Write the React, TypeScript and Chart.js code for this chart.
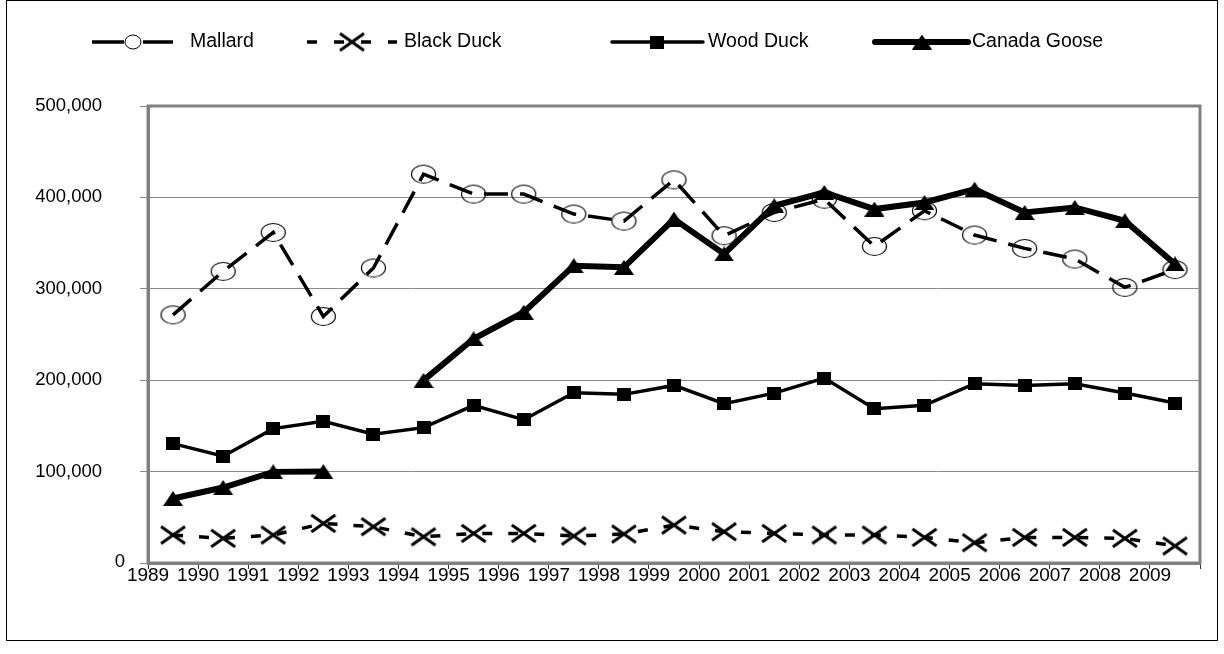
import React, { useEffect, useRef } from 'react';
import { Chart, registerables } from 'chart.js';

Chart.register(...registerables);

const years = ['1989', '1990', '1991', '1992', '1993', '1994', '1995', '1996', '1997', '1998', '1999', '2000', '2001', '2002', '2003', '2004', '2005', '2006', '2007', '2008', '2009'];
const mallard = [271500, 319100, 361700, 269700, 322800, 425400, 403600, 403600, 381800, 374100, 419200, 358100, 383500, 398100, 346400, 385400, 358800, 344200, 332600, 301600, 321000];
const blackDuck = [30600, 27000, 30600, 43300, 39700, 28700, 32400, 32400, 29500, 31700, 41500, 34200, 32400, 30600, 30600, 28000, 22200, 28000, 28000, 27000, 18600];
const woodDuck = [130600, 116800, 147000, 155000, 140800, 148100, 172500, 156800, 186300, 184500, 194300, 174300, 185900, 202300, 168900, 172500, 196200, 194300, 196200, 185900, 175000];
const canadaGoose = [70600, 82600, 99700, 100000, null, 199800, 245300, 274400, 325300, 323500, 376300, 338100, 390800, 405400, 387200, 394400, 409000, 383500, 389000, 374400, 327200];
const seriesNames = ['Mallard', 'Black Duck', 'Wood Duck', 'Canada Goose'];
const yMax = 500000;
const yStep = 100000;
const zeroLabel = '0';

const FONT = '"Liberation Sans", Arial, sans-serif';

function makeMarker(kind: string): HTMLCanvasElement {
  const c = document.createElement('canvas');
  const ctx = c.getContext('2d') as CanvasRenderingContext2D;
  if (kind === 'circle') {
    c.width = 27; c.height = 21;
    ctx.strokeStyle = '#000';
    ctx.lineWidth = 1.2;
    ctx.beginPath();
    ctx.ellipse(13.5, 10.5, 12, 9, 0, 0, Math.PI * 2);
    ctx.stroke();
  } else if (kind === 'x') {
    c.width = 28; c.height = 21;
    ctx.strokeStyle = '#000';
    ctx.lineWidth = 3;
    ctx.beginPath();
    ctx.moveTo(2, 2); ctx.lineTo(26, 19);
    ctx.moveTo(2, 19); ctx.lineTo(26, 2);
    ctx.stroke();
  } else if (kind === 'square') {
    c.width = 14; c.height = 13;
    ctx.fillStyle = '#000';
    ctx.fillRect(0, 0, 14, 13);
  } else {
    c.width = 20; c.height = 15;
    ctx.fillStyle = '#000';
    ctx.beginPath();
    ctx.moveTo(10, 0); ctx.lineTo(20, 15); ctx.lineTo(0, 15); ctx.closePath();
    ctx.fill();
  }
  return c;
}

export default function App() {
  const canvasRef = useRef<HTMLCanvasElement | null>(null);

  useEffect(() => {
    document.body.style.margin = '0';
    const canvas = canvasRef.current;
    if (!canvas) return;

    const markers = [makeMarker('circle'), makeMarker('x'), makeMarker('square'), makeMarker('triangle')];

    const legendLayout = [
      { segs: [[92, 124], [143, 173]], dash: [] as number[], lw: 3.5, mx: 133, tx: 190 },
      { segs: [[307, 397]], dash: [10, 17], lw: 3.5, mx: 352, tx: 404 },
      { segs: [[612, 703]], dash: [], lw: 3.5, mx: 657, tx: 708 },
      { segs: [[875, 968]], dash: [], lw: 6, mx: 922, tx: 972 },
    ];

    const frameAndLegend = {
      id: 'frameAndLegend',
      beforeDatasetsDraw(chart: any) {
        const { ctx, chartArea } = chart;
        ctx.save();
        ctx.strokeStyle = '#808080';
        ctx.lineWidth = 3;
        ctx.strokeRect(chartArea.left, chartArea.top, chartArea.right - chartArea.left, chartArea.bottom - chartArea.top);
        ctx.restore();
      },
      afterDraw(chart: any) {
        const ctx = chart.ctx as CanvasRenderingContext2D;
        ctx.save();
        ctx.strokeStyle = '#000';
        ctx.lineWidth = 1;
        ctx.strokeRect(6.5, 0.5, 1211, 640);
        // zero label of y axis, placed as in the original
        const y0 = chart.scales.y.getPixelForValue(0);
        ctx.fillStyle = '#000';
        ctx.font = '18.5px ' + FONT;
        ctx.textAlign = 'right';
        ctx.textBaseline = 'middle';
        ctx.fillText(zeroLabel, 125, y0 - 1);
        const ly = 42;
        legendLayout.forEach((L, i) => {
          ctx.save();
          ctx.strokeStyle = '#000';
          ctx.lineWidth = L.lw;
          ctx.lineCap = i >= 2 ? 'round' : 'butt';
          ctx.setLineDash(L.dash);
          L.segs.forEach(([a, b]) => {
            ctx.beginPath();
            ctx.moveTo(a, ly);
            ctx.lineTo(b, ly);
            ctx.stroke();
          });
          ctx.setLineDash([]);
          const m = markers[i];
          if (i === 0) {
            ctx.fillStyle = '#fff';
            ctx.beginPath();
            ctx.ellipse(L.mx, ly, 8, 7, 0, 0, Math.PI * 2);
            ctx.fill();
            ctx.lineWidth = 1;
            ctx.stroke();
          } else {
            ctx.drawImage(m, L.mx - m.width / 2, ly - m.height / 2);
          }
          ctx.fillStyle = '#000';
          ctx.font = '19.5px ' + FONT;
          ctx.textBaseline = 'middle';
          ctx.textAlign = 'left';
          ctx.fillText(seriesNames[i], L.tx, ly);
          ctx.restore();
        });
        ctx.restore();
      },
    };

    const chart = new Chart(canvas, {
      type: 'line',
      data: {
        labels: years,
        datasets: [
          {
            label: seriesNames[0],
            data: mallard,
            borderColor: '#000',
            borderWidth: 3.5,
            borderDash: [24, 12],
            pointStyle: markers[0] as any,
            pointRadius: 5,
            backgroundColor: 'transparent',
            tension: 0,
          },
          {
            label: seriesNames[1],
            data: blackDuck,
            borderColor: '#000',
            borderWidth: 3.5,
            borderDash: [10, 16],
            pointStyle: markers[1] as any,
            pointRadius: 5,
            backgroundColor: 'transparent',
            tension: 0,
          },
          {
            label: seriesNames[2],
            data: woodDuck,
            borderColor: '#000',
            borderWidth: 3.5,
            pointStyle: markers[2] as any,
            pointRadius: 5,
            backgroundColor: '#000',
            tension: 0,
          },
          {
            label: seriesNames[3],
            data: canadaGoose as any,
            borderColor: '#000',
            borderWidth: 6,
            borderJoinStyle: 'miter',
            pointStyle: markers[3] as any,
            pointRadius: 5,
            backgroundColor: '#000',
            tension: 0,
            spanGaps: false,
          },
        ],
      },
      options: {
        responsive: false,
        animation: false,
        devicePixelRatio: 1,
        layout: { padding: { top: 106, right: 24, bottom: 61, left: 0 } },
        plugins: {
          legend: { display: false },
          tooltip: { enabled: false },
        },
        events: [],
        scales: {
          x: {
            type: 'category',
            offset: true,
            afterFit(scale: any) { scale.height = 30; },
            grid: {
              offset: true,
              drawOnChartArea: false,
              drawTicks: true,
              tickLength: 6,
              color: '#303030',
              lineWidth: 1,
            },
            border: { display: true, color: '#808080', width: 3 },
            ticks: {
              autoSkip: false,
              maxRotation: 0,
              minRotation: 0,
              labelOffset: -25,
              padding: -5,
              color: '#000',
              font: { family: FONT, size: 19 },
            },
          },
          y: {
            min: 0,
            max: yMax,
            afterFit(scale: any) { scale.width = 148; },
            grid: {
              color: '#8a8a8a',
              lineWidth: 1,
              tickLength: 8,
            },
            border: { display: true, color: '#808080', width: 3 },
            ticks: {
              stepSize: yStep,
              padding: 38,
              color: '#000',
              font: { family: FONT, size: 18.5 },
              callback: (v: any) => (Number(v) === 0 ? '' : Number(v).toLocaleString('en-US')),
            },
          },
        },
      },
      plugins: [frameAndLegend],
    });

    return () => chart.destroy();
  }, []);

  return (
    <div style={{ width: 1224, height: 654, background: '#fff' }}>
      <canvas ref={canvasRef} width={1224} height={654} style={{ display: 'block', width: 1224, height: 654 }} />
    </div>
  );
}
